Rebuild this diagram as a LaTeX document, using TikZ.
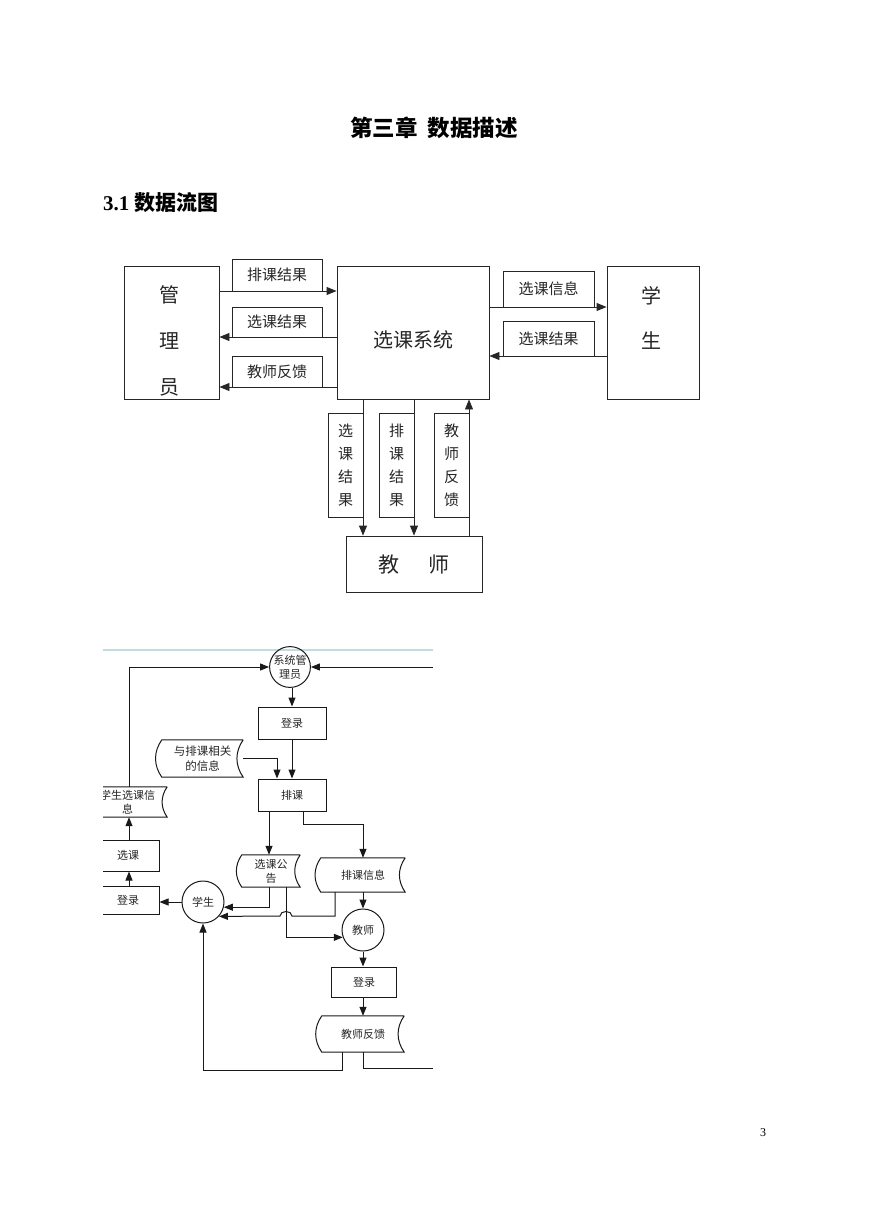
\documentclass[tikz,border=0pt]{standalone}
\usepackage{fontspec}
\setmainfont{Liberation Serif}
\newfontfamily\cjk{Noto Sans CJK SC}
\usetikzlibrary{arrows.meta,calc}
\tikzset{
  ln/.style={line width=0.9pt, draw=black!85},
  arr/.style={ln, -{Triangle[length=10pt,width=8pt]}},
  box/.style={ln, rectangle, inner sep=0pt, fill=white},
  lab/.style={font=\cjk\fontsize{15}{23}\selectfont, text=black!85, align=center},
  big/.style={font=\cjk\fontsize{20}{24}\selectfont, text=black!85, align=center, inner sep=0pt},
  bln/.style={line width=1pt, draw=black!90},
  barr/.style={bln, -{Triangle[length=9pt,width=7pt]}},
  btxt/.style={font=\cjk\fontsize{11}{14}\selectfont, text=black!85, align=center},
  bbox/.style={bln, rectangle, inner sep=0pt, btxt},
  bcirc/.style={bln, circle, inner sep=0pt, btxt},
  sd/.style={inner sep=0pt, btxt},
  cyanline/.style={line width=1.6pt, draw={rgb,255:red,196;green,220;blue,224}}
}
\newcommand\sdshape[1]{\draw[bln] (#1.north east) -- (#1.north west) to[bend right=35] (#1.south west) -- (#1.south east) to[bend left=35] (#1.north east);}
\begin{document}
\begin{tikzpicture}[x=1pt,y=-1pt]
\fill[white] (0,0) rectangle (869,1228);
\useasboundingbox (0,0) rectangle (869,1228);

% headings
\node[font=\cjk\bfseries\fontsize{22.5}{27}\selectfont] (title) at (434,128) {第三章\hspace{10pt}数据描述};
\node[anchor=west, inner sep=0pt, font=\bfseries\fontsize{21}{25}\selectfont] (sec) at (103,203) {3.1 {\cjk 数据流图}};
\node[font=\fontsize{12}{14}\selectfont] (pg) at (763,1133) {3};

% ---------- top diagram ----------
\node[box, minimum width=95pt, minimum height=133pt] (mgr) at (171.5,332.5) {};
\node[box, minimum width=152pt, minimum height=133pt] (sys) at (413,332.5) {};
\node[box, minimum width=92pt, minimum height=133pt] (stu) at (653,332.5) {};
\node[box, minimum width=136pt, minimum height=56pt] (tch) at (414,564) {};
\node[big, font=\cjk\fontsize{20}{46}\selectfont] (mgrt) at (169,341) {管\\理\\员};
\node[big] (syst) at (413,340) {选课系统};
\node[big, font=\cjk\fontsize{20}{45}\selectfont] (stut) at (651,318) {学\\生};
\node[big, font=\cjk\fontsize{21}{25}\selectfont] (tcht) at (414,565) {教\hspace{30pt}师};

\node[box, lab, minimum width=90pt, minimum height=32pt] (l1) at (277,275) {排课结果};
\node[box, lab, minimum width=90pt, minimum height=30pt] (l2) at (277,322) {选课结果};
\node[box, lab, minimum width=90pt, minimum height=31pt] (l3) at (277,371.5) {教师反馈};
\node[box, lab, minimum width=91pt, minimum height=36pt] (l4) at (548.5,289) {选课信息};
\node[box, lab, minimum width=91pt, minimum height=35pt] (l5) at (548.5,338.5) {选课结果};
\node[box, lab, minimum width=35pt, minimum height=104pt] (v1) at (345.5,465) {选\\课\\结\\果};
\node[box, lab, minimum width=35pt, minimum height=104pt] (v2) at (396.5,465) {排\\课\\结\\果};
\node[box, lab, minimum width=35pt, minimum height=104pt] (v3) at (451.5,465) {教\\师\\反\\馈};

\coordinate (y291) at (0,291);
\coordinate (y337) at (0,337);
\coordinate (y387) at (0,387);
\coordinate (y307) at (0,307);
\coordinate (y356) at (0,356);
\coordinate (x363) at (363,0);
\coordinate (x414) at (414,0);
\coordinate (x469) at (469,0);
\draw[arr] (mgr.east |- y291) -- (sys.west |- y291);
\draw[arr] (sys.west |- y337) -- (mgr.east |- y337);
\draw[arr] (sys.west |- y387) -- (mgr.east |- y387);
\draw[arr] (sys.east |- y307) -- (stu.west |- y307);
\draw[arr] (stu.west |- y356) -- (sys.east |- y356);
\draw[arr] (sys.south -| x363) -- (tch.north -| x363);
\draw[arr] (sys.south -| x414) -- (tch.north -| x414);
\draw[arr] (tch.north -| x469) -- (sys.south -| x469);

% ---------- bottom diagram ----------
\begin{scope}
\clip (103,645) rectangle (433,1076);
\draw[cyanline] (103,650) -- (433,650);
\node[bcirc, minimum size=39pt] (adm) at (290,667) {系统管\\理员};
\node[bbox, minimum width=68pt, minimum height=32pt] (lg1) at (292,723) {登录};
\node[bbox, minimum width=68pt, minimum height=32pt] (pk) at (292,795) {排课};
\node[sd, minimum width=81pt, minimum height=37pt, font=\cjk\fontsize{11.5}{15.5}\selectfont] (inf) at (202.5,758.5) {与排课相关\\的信息};
\node[sd, minimum width=79pt, minimum height=30pt] (sinf) at (127.5,802) {学生选课信\\息};
\node[bbox, minimum width=62pt, minimum height=31pt] (xk) at (128,855.5) {选课};
\node[bbox, minimum width=62pt, minimum height=28pt] (lg2) at (128,900) {登录};
\node[bcirc, minimum size=42pt] (st2) at (203,902) {学生};
\node[sd, minimum width=58pt, minimum height=32pt] (gg) at (271,871) {选课公\\告};
\node[sd, minimum width=84pt, minimum height=34pt] (pxx) at (363,875) {排课信息};
\node[bcirc, minimum size=42pt] (js) at (363,930) {教师};
\node[bbox, minimum width=65pt, minimum height=30pt] (lg3) at (364,982) {登录};
\node[sd, minimum width=82pt, minimum height=36pt] (fk) at (363,1034) {教师反馈};
\sdshape{inf}
\sdshape{sinf}
\sdshape{gg}
\sdshape{pxx}
\sdshape{fk}

\coordinate (c129) at (129,0);
\coordinate (c277) at (277,0);
\coordinate (c269) at (269,0);
\coordinate (c303) at (303,0);
\coordinate (c286) at (286,0);
\coordinate (c335) at (335,0);
\coordinate (c342) at (342,0);
\coordinate (y824) at (0,824);
\coordinate (y1070) at (0,1070);
\coordinate (hopR) at (292,916);
\coordinate (hopL) at (280,916);
\coordinate (rin) at (433,667);
\coordinate (rout) at (433,1068);

\draw[barr] (sinf.north -| c129) |- (adm.west);
\draw[barr] (rin) -- (adm.east);
\draw[barr] (adm.south -| lg1.north) -- (lg1.north);
\draw[barr] (lg1) -- (pk);
\draw[barr] (inf.east) -| (pk.north -| c277);
\draw[barr] (xk.north -| c129) -- (sinf.south -| c129);
\draw[barr] (lg2.north -| c129) -- (xk.south -| c129);
\draw[barr] (st2.west) -- (st2.west -| lg2.east);
\draw[barr] (pk.south -| c269) -- (gg.north -| c269);
\draw[barr] (pk.south -| c303) |- (pxx.north |- y824) -- (pxx.north);
\draw[barr] (gg.south -| c269) |- (st2.-14);
\draw[barr] (gg.south -| c286) |- (js.-160);
\draw[barr] (pxx.south -| c335) |- (hopR) .. controls +(0,-6) and +(0,-6) .. (hopL) -- (st2.-42);
\draw[barr] (pxx.south) -- (js.north);
\draw[barr] (js.south) -- (js.south |- lg3.north);
\draw[barr] (lg3.south -| fk.north) -- (fk.north);
\draw[barr] (fk.south -| c342) |- (st2.south |- y1070) -- (st2.south);
\draw[bln] (fk.south -| js.south) |- (rout);
\end{scope}
\end{tikzpicture}
\end{document}
